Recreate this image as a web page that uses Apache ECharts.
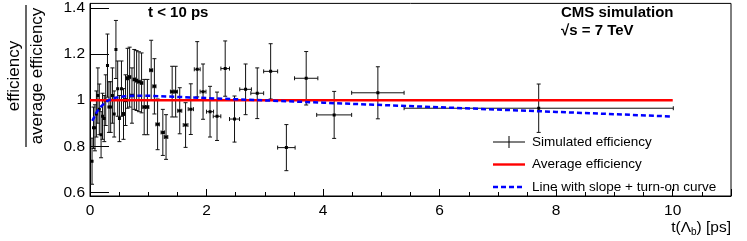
<!DOCTYPE html>
<html>
<head>
<meta charset="utf-8">
<script src="https://cdn.jsdelivr.net/npm/echarts@6/dist/echarts.min.js"></script>
<style>html,body{margin:0;padding:0;background:#fff}#c{width:747px;height:241px}</style>
</head>
<body>
<div id="c"></div>
<script>
// Simulated efficiency bins: centre, half-width, ratio, error
const tVals   = [0.035,0.06,0.085,0.11,0.135,0.16,0.19,0.215,0.245,0.27,0.30,0.325,0.355,0.385,0.415,0.445,0.475,0.505,0.54,0.575,0.61,0.645,0.68,0.72,0.76,0.80,0.84,0.885,0.93,0.985,1.05,1.105,1.16,1.25,1.305,1.41,1.47,1.54,1.64,1.73,1.84,1.94,2.06,2.18,2.32,2.48,2.67,2.87,3.10,3.37,3.71,4.19,4.94,7.70];
const tErrs   = [0.012,0.012,0.012,0.012,0.012,0.013,0.013,0.013,0.014,0.014,0.015,0.015,0.015,0.015,0.016,0.016,0.016,0.017,0.017,0.018,0.018,0.018,0.019,0.02,0.02,0.02,0.021,0.022,0.023,0.025,0.026,0.027,0.03,0.03,0.03,0.03,0.03,0.035,0.04,0.045,0.05,0.05,0.06,0.065,0.074,0.086,0.10,0.11,0.12,0.15,0.20,0.30,0.45,2.31];
const effVals = [0.735,0.88,0.88,0.94,1.02,0.96,0.85,0.93,0.92,1.00,1.15,0.97,0.97,1.02,0.94,1.22,1.05,0.92,1.05,0.94,1.00,1.095,1.10,1.02,1.09,1.085,1.08,1.075,0.97,0.97,1.13,1.06,0.895,0.86,0.84,1.037,1.037,0.954,0.892,0.961,1.134,1.037,0.95,0.93,1.137,0.918,1.047,1.03,1.125,0.794,1.095,0.936,1.032,0.965];
const effErrs = [0.10,0.09,0.10,0.10,0.12,0.11,0.10,0.10,0.10,0.11,0.137,0.11,0.11,0.12,0.10,0.126,0.12,0.10,0.12,0.11,0.11,0.13,0.13,0.12,0.13,0.13,0.13,0.13,0.12,0.12,0.13,0.12,0.11,0.10,0.097,0.11,0.11,0.10,0.097,0.11,0.12,0.12,0.11,0.105,0.12,0.10,0.11,0.11,0.12,0.10,0.116,0.102,0.113,0.105];

// Average efficiency line
const avgT   = [0, 10];
const avgEff = [1, 1];

// Line with slope + turn-on curve
const fitT   = [0.04,0.08,0.12,0.16,0.20,0.25,0.30,0.40,0.50,0.60,0.80,1.0,2,4,6,8,10];
const fitEff = [0.91,0.93,0.95,0.963,0.975,0.987,0.997,1.008,1.014,1.017,1.019,1.019,1.009,0.989,0.969,0.949,0.929];

// Axis ticks
const xTicks = [0,2,4,6,8,10];
const yTicks = [0.6,0.8,1.0,1.2,1.4];

const FONT = '"Liberation Sans", Arial, Helvetica, sans-serif';
const chart = echarts.init(document.getElementById('c'), null, {renderer:'canvas'});

const errData = tVals.map((t,i)=>[t, effVals[i], tErrs[i], effErrs[i]]);

function renderErr(params, api){
  const t = api.value(0), e = api.value(1), tx = api.value(2), ey = api.value(3);
  const c = api.coord([t, e]);
  const l = api.coord([t - tx, e]);
  const r = api.coord([t + tx, e]);
  const top = api.coord([t, e + ey]);
  const bot = api.coord([t, e - ey]);
  const st = {stroke:'#111', lineWidth:1};
  const ch = [
    {type:'line', shape:{x1:c[0],y1:bot[1],x2:c[0],y2:top[1]}, style:st},
    {type:'line', shape:{x1:c[0]-2,y1:top[1],x2:c[0]+2,y2:top[1]}, style:st},
    {type:'line', shape:{x1:c[0]-2,y1:bot[1],x2:c[0]+2,y2:bot[1]}, style:st}
  ];
  if (r[0]-l[0] > 2) {
    ch.push({type:'line', shape:{x1:l[0],y1:c[1],x2:r[0],y2:c[1]}, style:st});
    ch.push({type:'line', shape:{x1:l[0],y1:c[1]-2,x2:l[0],y2:c[1]+2}, style:st});
    ch.push({type:'line', shape:{x1:r[0],y1:c[1]-2,x2:r[0],y2:c[1]+2}, style:st});
  }
  ch.push({type:'rect', shape:{x:c[0]-1.5,y:c[1]-1.5,width:3,height:3}, style:{fill:'#000'}});
  return {type:'group', children:ch};
}

const option = {
  animation:false,
  backgroundColor:'#fff',
  textStyle:{fontFamily:FONT},
  grid:{left:90, right:16, top:2, bottom:45, show:true, borderColor:'#000', borderWidth:1, backgroundColor:'transparent'},
  title:[
    {text:'t < 10 ps', left:148, top:5, padding:0, textStyle:{fontFamily:FONT, fontWeight:'bold', fontSize:15, color:'#000'}},
    {text:'CMS simulation', left:561, top:5, padding:0, textStyle:{fontFamily:FONT, fontWeight:'bold', fontSize:15, color:'#000'}},
    {text:'√s = 7 TeV', left:561, top:23, padding:0, textStyle:{fontFamily:FONT, fontWeight:'bold', fontSize:15, color:'#000'}}
  ],
  legend:{
    orient:'vertical', left:493, top:135, padding:0,
    itemWidth:32, itemHeight:12, itemGap:8.5, selectedMode:false,
    itemStyle:{borderWidth:0},
    textStyle:{fontFamily:FONT, fontSize:13.5, color:'#000', padding:[0,0,0,2]},
    data:[
      {name:'Simulated efficiency', icon:'path://M0,0M32,12M0,5.5h32v1h-32zM15.5,0h1v12h-1z'},
      {name:'Average efficiency', icon:'path://M0,0M32,12M0,4.8h32v2.4h-32z'},
      {name:'Line with slope + turn-on curve', icon:'path://M0,0M32,12M0,4.8h5v2.4h-5zM8,4.8h5v2.4h-5zM16,4.8h5v2.4h-5zM24,4.8h5v2.4h-5z'}
    ]
  },
  xAxis:{
    type:'value', min:0, max:11, interval:2,
    axisLine:{show:true, onZero:false, lineStyle:{color:'#000', width:1}},
    axisTick:{show:true, inside:true, length:7, lineStyle:{color:'#000'}},
    minorTick:{show:true, splitNumber:4, length:4, lineStyle:{color:'#000'}},
    splitLine:{show:false},
    axisLabel:{fontFamily:FONT, fontSize:15.5, color:'#000', margin:7, customValues:xTicks},
    name:'t(Λ{sub|b}) [ps]', nameLocation:'end', nameGap:0,
    nameTextStyle:{fontFamily:FONT, fontSize:15.5, color:'#000', align:'right', verticalAlign:'top', padding:[23,0,0,0],
      rich:{sub:{fontSize:10, verticalAlign:'bottom', padding:[8,0,0,0], fontFamily:FONT, color:'#000'}}}
  },
  yAxis:{
    type:'value', min:0.584, max:1.42,
    axisLine:{show:true, onZero:false, lineStyle:{color:'#000', width:1}},
    axisTick:{show:true, inside:true, length:19, customValues:yTicks, lineStyle:{color:'#000'}},
    splitLine:{show:false},
    axisLabel:{fontFamily:FONT, fontSize:15.5, color:'#000', margin:5, customValues:yTicks,
      formatter:v=>String(Math.round(v*10)/10)}
  },
  graphic:[
    {type:'group', x:26, y:76, rotation:Math.PI/2, children:[
      {type:'text', style:{text:'efficiency', x:0, y:-3, align:'center', verticalAlign:'bottom', fontFamily:FONT, fontSize:17, fill:'#000'}},
      {type:'line', shape:{x1:-71, y1:0, x2:71, y2:0}, style:{stroke:'#000', lineWidth:1.2}},
      {type:'text', style:{text:'average efficiency', x:0, y:3, align:'center', verticalAlign:'top', fontFamily:FONT, fontSize:17, fill:'#000'}}
    ]}
  ],
  series:[
    {name:'Simulated efficiency', type:'custom', renderItem:renderErr, data:errData, itemStyle:{color:'#000'}, z:2, clip:true},
    {name:'Average efficiency', type:'line', data:avgT.map((t,i)=>[t,avgEff[i]]), symbol:'none',
      itemStyle:{color:'#ff0000'}, lineStyle:{color:'#ff0000', width:2.5}, z:3},
    {name:'Line with slope + turn-on curve', type:'line', data:fitT.map((t,i)=>[t,fitEff[i]]), symbol:'none', smooth:false,
      itemStyle:{color:'#0000ff'}, lineStyle:{color:'#0000ff', width:2.5, type:[5,3]}, z:4}
  ]
};
chart.setOption(option);
</script>
</body>
</html>
